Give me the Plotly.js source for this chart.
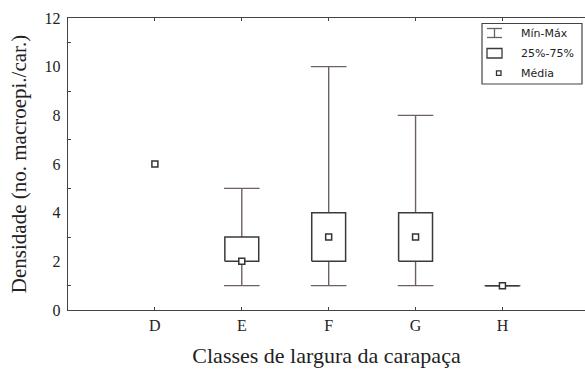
<!DOCTYPE html>
<html>
<head>
<meta charset="utf-8">
<script src="https://cdn.plot.ly/plotly-3.0.1.min.js"></script>
<style>html,body{margin:0;padding:0;background:#fff;}#chart{width:585px;height:370px;}</style>
</head>
<body>
<div id="chart"></div>
<script>
// Data
const categories = ['D', 'E', 'F', 'G', 'H'];
const minVals  = [null, 1, 1, 1, 1];
const maxVals  = [null, 5, 10, 8, 1];
const q25Vals  = [null, 2, 2, 2, 1];
const q75Vals  = [null, 3, 4, 4, 1];
const meanVals = [6, 2, 3, 3, 1];
const legendLabels = ['Mín-Máx', '25%-75%', 'Média'];

const capHalf = 0.205;
const boxHalf = 0.195;
const whiskerColor = '#6e6060';
const boxColor = '#3a3a3a';
const frameColor = '#444444';

// Whiskers (Min-Max)
const wx = [], wy = [];
categories.forEach((c, i) => {
  if (minVals[i] == null) return;
  wx.push(i, i, null);           wy.push(minVals[i], maxVals[i], null);
  wx.push(i - capHalf, i + capHalf, null); wy.push(minVals[i], minVals[i], null);
  wx.push(i - capHalf, i + capHalf, null); wy.push(maxVals[i], maxVals[i], null);
});

// Boxes (25%-75%)
const bx = [], by = [];
categories.forEach((c, i) => {
  if (q25Vals[i] == null) return;
  bx.push(i - boxHalf, i + boxHalf, i + boxHalf, i - boxHalf, i - boxHalf, null);
  by.push(q25Vals[i], q25Vals[i], q75Vals[i], q75Vals[i], q25Vals[i], null);
});

const idx = categories.map((c, i) => i);

const traces = [
  {
    type: 'scatter', mode: 'lines', x: wx, y: wy, name: legendLabels[0],
    line: {color: whiskerColor, width: 1.4}, hoverinfo: 'skip', showlegend: false
  },
  {
    type: 'scatter', mode: 'lines', x: bx, y: by, name: legendLabels[1],
    fill: 'toself', fillcolor: '#ffffff',
    line: {color: boxColor, width: 1.5}, hoverinfo: 'skip', showlegend: false
  },
  {
    type: 'scatter', mode: 'markers', x: idx, y: meanVals, name: legendLabels[2],
    marker: {symbol: 'square', size: 6, color: '#ffffff', line: {color: '#333333', width: 1.5}},
    showlegend: false
  }
];

// Custom legend (drawn in paper coordinates, converted from pixel positions)
const M = {l: 68, r: 0, t: 18, b: 60};
const W = 585, H = 370;
const pw = W - M.l - M.r, ph = H - M.t - M.b;
const px = x => (x - M.l) / pw;
const py = y => (H - M.b - y) / ph;

const shapes = [
  {type: 'rect', xref: 'paper', yref: 'paper', x0: px(482), x1: px(582), y0: py(84), y1: py(23.5),
   line: {color: frameColor, width: 1.2}, fillcolor: '#ffffff', layer: 'above'},
  // whisker icon
  {type: 'line', xref: 'paper', yref: 'paper', x0: px(487), x1: px(502), y0: py(28.5), y1: py(28.5), line: {color: whiskerColor, width: 1.3}, layer: 'above'},
  {type: 'line', xref: 'paper', yref: 'paper', x0: px(487), x1: px(502), y0: py(37.5), y1: py(37.5), line: {color: whiskerColor, width: 1.3}, layer: 'above'},
  {type: 'line', xref: 'paper', yref: 'paper', x0: px(494.5), x1: px(494.5), y0: py(28.5), y1: py(37.5), line: {color: whiskerColor, width: 1.3}, layer: 'above'},
  // box icon
  {type: 'rect', xref: 'paper', yref: 'paper', x0: px(487), x1: px(502), y0: py(58), y1: py(48.5), line: {color: boxColor, width: 1.3}, fillcolor: '#ffffff', layer: 'above'},
  // mean icon
  {type: 'rect', xref: 'paper', yref: 'paper', x0: px(496.5), x1: px(501), y0: py(75.3), y1: py(70.8), line: {color: '#333333', width: 1.3}, fillcolor: '#ffffff', layer: 'above'}
];

const legendFont = {family: 'DejaVu Sans, Verdana, sans-serif', size: 11, color: '#222222'};
const legendY = [33.5, 53.5, 73];
const annotations = legendLabels.map((t, i) => ({
  text: t, xref: 'paper', yref: 'paper', x: px(519), y: py(legendY[i]),
  xanchor: 'left', yanchor: 'middle', showarrow: false, font: legendFont
}));

const serif = 'Liberation Serif, Times New Roman, serif';

const layout = {
  width: W, height: H,
  margin: M,
  paper_bgcolor: '#ffffff', plot_bgcolor: '#ffffff',
  showlegend: false,
  shapes: shapes,
  annotations: annotations,
  xaxis: {
    range: [-1, 4.95],
    tickmode: 'array', tickvals: idx, ticktext: categories,
    showgrid: false, zeroline: false,
    showline: true, linecolor: frameColor, linewidth: 1.3,
    mirror: 'ticks', ticks: 'inside', ticklen: 3, tickcolor: frameColor,
    tickfont: {family: serif, size: 16, color: '#222222'},
    title: {text: 'Classes de largura da carapaça', standoff: 15,
            font: {family: serif, size: 22, color: '#222222'}}
  },
  yaxis: {
    range: [0, 12], dtick: 2,
    showgrid: false, zeroline: false,
    showline: true, linecolor: frameColor, linewidth: 1.3,
    ticks: '', ticklen: 0, ticklabelstandoff: 3,
    minor: {dtick: 1, ticks: 'inside', ticklen: 3, tickcolor: frameColor, showgrid: false},
    tickfont: {family: serif, size: 16, color: '#222222'},
    title: {text: 'Densidade (no. macroepi./car.)', standoff: 12,
            font: {family: serif, size: 21, color: '#222222'}}
  }
};

Plotly.newPlot('chart', traces, layout, {displayModeBar: false, staticPlot: true});
</script>
</body>
</html>
